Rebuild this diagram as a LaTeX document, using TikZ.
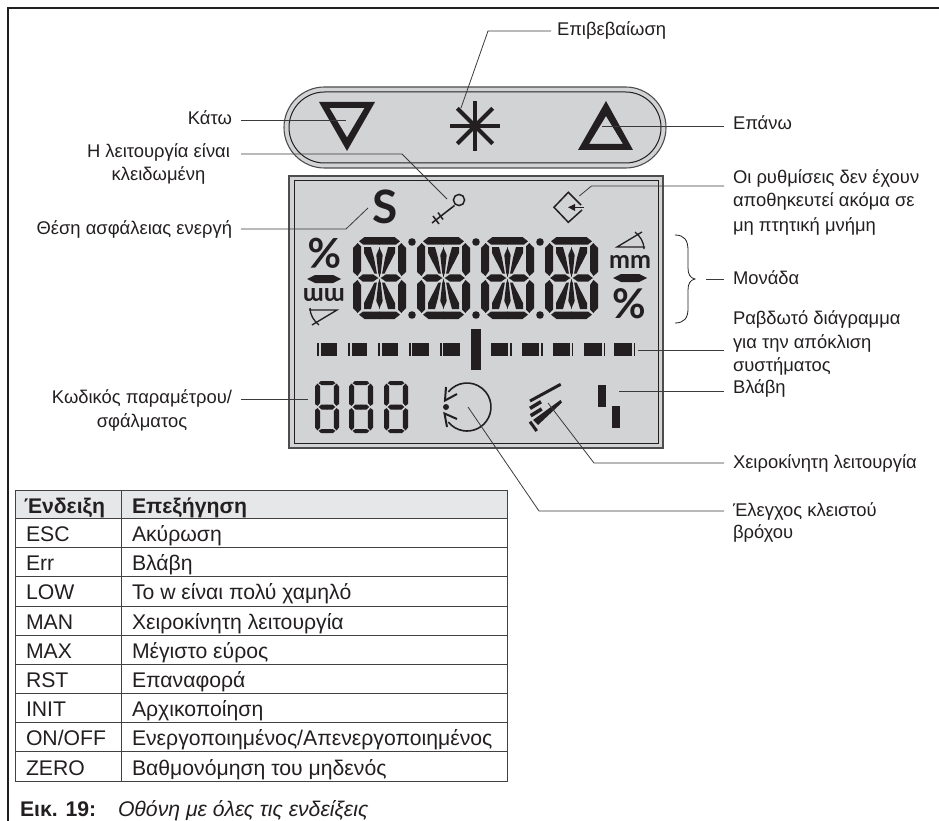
\documentclass[tikz,border=0pt]{standalone}
\usepackage{fontspec}
\setmainfont{Liberation Sans}
\newfontfamily\symfont{Lato}
\definecolor{lcdgray}{HTML}{D1D3D4}
\definecolor{ink}{HTML}{231F20}
\definecolor{headgray}{HTML}{E6E7E8}
\definecolor{leaderc}{HTML}{3A3A3A}
\tikzset{
  lbl/.style={inner sep=0pt,outer sep=0pt,text=ink,font=\fontsize{18.4}{22}\selectfont},
  cell/.style={inner sep=0pt,outer sep=0pt,text=ink,font=\fontsize{21.2}{24}\selectfont},
  cellb/.style={inner sep=0pt,outer sep=0pt,text=ink,font=\fontsize{21.2}{24}\selectfont\bfseries},
  leader/.style={draw=leaderc,line width=0.8pt},
  panel/.style={draw=ink!80,line width=1.1pt,fill=lcdgray},
  seg/.style={fill=ink},
  rule/.style={draw=ink!85,line width=0.8pt},
}
% 14-segment digit, centred at (#1,#2)
\newcommand{\alnumdigit}[2]{%
  \begin{scope}[shift={(#1,#2)}]
  \foreach \sx in {1,-1} \foreach \sy in {1,-1} {
    \begin{scope}[xscale=\sx,yscale=\sy]
      \fill[seg] (-20.5,-36.7)--(-15,-41)--(0.3,-41)--(0.3,-33.5)--(-16.5,-33.5)--cycle;
      \fill[seg] (-26.5,-30)--(-21.8,-35)--(-18.5,-31.5)--(-18.5,-7)--(-22,-2)--(-26.5,-6)--cycle;
      \fill[seg] (-21.5,0.2)--(-16.5,-3.7)--(-6.5,-3.7)--(-1,0.2)--cycle;
      \fill[seg] (0.3,-31)--(-3.2,-23)--(-1.3,-5)--(0.3,-1)--cycle;
      \fill[seg] (-15.5,-31)--(-8.5,-31)--(-5.5,-20)--(-2.6,-4.5)--(-5,-4.5)--(-15.5,-25)--cycle;
    \end{scope}
  }
  \end{scope}}
% 7-segment digit, centred at (#1,#2)
\newcommand{\sevendigit}[2]{%
  \begin{scope}[shift={(#1,#2)}]
  \foreach \sx in {1,-1} \foreach \sy in {1,-1} {
    \begin{scope}[xscale=\sx,yscale=\sy]
      \fill[seg] (-8.5,-23.8)--(-6,-26)--(0.3,-26)--(0.3,-22)--(-5.5,-22)--cycle;
      \fill[seg] (-12,-20.5)--(-9.5,-23.5)--(-6.8,-20.5)--(-6.8,-4)--(-9.5,-1.2)--(-12,-3)--cycle;
      \fill[seg] (-8.3,0.2)--(-5.5,-2.5)--(0.3,-2.5)--(0.3,0.2)--cycle;
    \end{scope}
  }
  \end{scope}}
% unit column: angle, mm, lens, %
\newcommand{\unitcol}[1]{%
  \draw[ink,line width=1.3pt] (642,232)--(617,247)--(645,247);
  \draw[ink,line width=1.3pt] (635,232) .. controls (640,236) and (644,242) .. (644,249);
  \node[inner sep=0pt,text=ink,transform shape,font=\symfont\bfseries\fontsize{25}{25}\selectfont] (#1mm) at (630,261.5) {mm};
  \fill[seg] (613,278)--(621,274)--(639,274)--(647,278)--(639,282)--(621,282)--cycle;
  \node[inner sep=0pt,text=ink,transform shape,font=\symfont\bfseries\fontsize{41}{41}\selectfont] (#1pc) at (629.5,304) {\%};
}
\begin{document}
\begin{tikzpicture}[x=1pt,y=-1pt]
\useasboundingbox (0,0) rectangle (939,821);
% page frame
\draw[ink,line width=1.4pt] (939,8)--(8,8)--(8,821);
% pill
\draw[panel,rounded corners=40.5pt] (284,87) rectangle (666,168);
\draw[draw=ink,line width=1pt,rounded corners=35.5pt] (289,92) rectangle (661,163);
% LCD
\draw[panel] (289,176) rectangle (663,448);
\draw[draw=ink,line width=1pt] (294,181) rectangle (658,443);
% keys
\fill[seg,even odd rule] (319,102)--(375,102)--(347,151)--cycle (329.5,108)--(364.5,108)--(347,137.5)--cycle;
\foreach \a in {0,45,90,135}
  \draw[ink,line width=4.2pt] (475,126)++(\a:25)--++(\a+180:50);
\fill[seg,even odd rule] (606,101)--(578,150)--(633,150)--cycle (606,116)--(589,144)--(623,144)--cycle;
% S
\node[inner sep=0pt,text=ink,font=\symfont\bfseries\fontsize{46}{46}\selectfont] (ssym) at (385,207) {S};
% key icon
\draw[ink,line width=1.5pt] (459,200) circle (5.6);
\draw[ink,line width=1.5pt] (454.5,205.5)--(432,223);
\draw[ink,line width=1.5pt] (433,216)--(439,224) (438,212.5)--(443,219.5);
% memory icon
\draw[ink,line width=1.5pt] (581,205)--(568.3,192.3)--(554,207.3)--(568.3,222.3)--(582,210);
\draw[ink,line width=1.5pt] (584,207.3)--(574,207.3);
\fill[seg] (568,207.3)--(575,204)--(575,211)--cycle;
% unit columns
\unitcol{r}
\begin{scope}[shift={(954,557)},rotate=180]
  \unitcol{l}
\end{scope}
% big digits
\foreach \x in {379.5,443.5,507.5,571.5} { \alnumdigit{\x}{278} }
\foreach \x in {412,476,540} {
  \fill[seg] (\x,242) circle (3.8);
  \fill[seg] (\x,315) circle (3.8);
}
% bar graph
\foreach \a/\b in {317.3/319,320.7/337,348.3/350,351.5/367.3,378/380,381.7/398,409/411,412.3/429,440/442,443.3/460,
                   491/508,510/512,522/539.3,541/543,553/570,572/573.3,584/602,603.5/605,614/632,633.5/635}
  \fill[seg] (\a,343) rectangle (\b,356);
\fill[seg] (471,329) rectangle (481,370);
% 888
\foreach \x in {327,361,396} { \sevendigit{\x}{407} }
% loop icon
\draw[ink,line width=1.6pt] (448.35,391.9) arc[start angle=141,end angle=-141,radius=24pt];
\fill[seg] (446,407) circle (3);
\draw[ink,line width=2pt] (446,387)--(445,400.5)--(457,394);
\draw[ink,line width=2pt] (447,427)--(444.5,413.5)--(457,419);
% hand icon
\draw[ink,line width=3pt] (530,401)--(560.7,384.3);
\draw[ink,line width=3.6pt] (530,408.3)--(541,401.7);
\draw[ink,line width=3.6pt] (530.7,415.7)--(541.7,409);
\fill[seg] (533,420)--(560.5,400)--(562,402.5)--(538,425)--cycle;
\draw[ink,line width=3pt] (530,421.7)--(536.7,431);
% fault icon
\fill[seg] (598,385) rectangle (606,407);
\fill[seg] (612,406) rectangle (620,428);
% brace
\draw[ink,line width=0.8pt] (675,235) .. controls (684,235) and (688,240) .. (688,250) -- (688,268) .. controls (688,274) and (690,278) .. (695,279)
  .. controls (690,280) and (688,284) .. (688,290) -- (688,309) .. controls (688,318) and (684,323) .. (675,323);
% labels, left
\node[lbl,anchor=base east] (kato) at (232,125) {Κάτω};
\node[lbl,anchor=base] (lock1) at (158.5,158) {Η λειτουργία είναι};
\node[lbl,anchor=base] (lock2) at (158.5,181) {κλειδωμένη};
\node[lbl,anchor=base east] (safe) at (232,234) {Θέση ασφάλειας ενεργή};
\node[lbl,anchor=base] (code1) at (142,403) {Κωδικός παραμέτρου/};
\node[lbl,anchor=base] (code2) at (142,427) {σφάλματος};
% labels, right
\node[lbl,anchor=base west] (conf) at (557,36) {Επιβεβαίωση};
\node[lbl,anchor=base west] (up) at (733,130) {Επάνω};
\node[lbl,anchor=base west] (mem1) at (733,183) {Οι ρυθμίσεις δεν έχουν};
\node[lbl,anchor=base west] (mem2) at (733,207) {αποθηκευτεί ακόμα σε};
\node[lbl,anchor=base west] (mem3) at (733,231) {μη πτητική μνήμη};
\node[lbl,anchor=base west] (unit) at (733,284) {Μονάδα};
\node[lbl,anchor=base west] (bar1) at (733,324) {Ραβδωτό διάγραμμα};
\node[lbl,anchor=base west] (bar2) at (733,348) {για την απόκλιση};
\node[lbl,anchor=base west] (bar3) at (733,371) {συστήματος};
\node[lbl,anchor=base west] (fault) at (733,393) {Βλάβη};
\node[lbl,anchor=base west] (man) at (733,468) {Χειροκίνητη λειτουργία};
\node[lbl,anchor=base west] (loop1) at (733,516) {Έλεγχος κλειστού};
\node[lbl,anchor=base west] (loop2) at (733,538) {βρόχου};
% connector ends
\coordinate (c1a) at (241,120); \coordinate (c1b) at (346,120);
\coordinate (c2a) at (241,154); \coordinate (c2b) at (402,154); \coordinate (c2c) at (447,199);
\coordinate (c3a) at (241,229); \coordinate (c3b) at (346,229); \coordinate (c3c) at (368,208);
\coordinate (c4a) at (551,31); \coordinate (c4b) at (488,31); \coordinate (c4c) at (461,108);
\coordinate (c5a) at (724,126); \coordinate (c5b) at (602,126);
\coordinate (c6a) at (724,186); \coordinate (c6b) at (591.5,186); \coordinate (c6c) at (579.3,196);
\coordinate (c7a) at (724,279); \coordinate (c7b) at (706,279);
\coordinate (c8a) at (724,350); \coordinate (c8b) at (638,350);
\coordinate (c9a) at (724,391); \coordinate (c9b) at (619,391);
\coordinate (c10a) at (724,463); \coordinate (c10b) at (594,463); \coordinate (c10c) at (548,403);
\coordinate (c11a) at (724,511); \coordinate (c11b) at (539,511); \coordinate (c11c) at (468,407);
\coordinate (c12a) at (241,399); \coordinate (c12b) at (308,399);
\draw[leader] (c1a)--(c1b);
\draw[leader] (c2a)--(c2b)--(c2c);
\draw[leader] (c3a)--(c3b)--(c3c);
\draw[leader] (c4a)--(c4b)--(c4c);
\draw[leader] (c5a)--(c5b);
\draw[leader] (c6a)--(c6b)--(c6c);
\draw[leader] (c7a)--(c7b);
\draw[leader] (c8a)--(c8b);
\draw[leader] (c9a)--(c9b);
\draw[leader] (c10a)--(c10b)--(c10c);
\draw[leader] (c11a)--(c11b)--(c11c);
\draw[leader] (c12a)--(c12b);
% table
\fill[headgray] (15,490) rectangle (507,518.3);
\draw[rule] (15,490) rectangle (507,781);
\draw[rule] (121.5,490)--(121.5,781);
\foreach \y in {518.3,547.3,576.7,606,635,664,693.3,722.3,751.7} \draw[rule] (15,\y)--(507,\y);
\node[cellb,anchor=base west] (h1) at (24,513) {Ένδειξη};
\node[cellb,anchor=base west] (h2) at (132,513) {Επεξήγηση};
\foreach \n/\y/\a/\b in {1/541/ESC/Ακύρωση,2/570/Err/Βλάβη,3/599.5/LOW/Το w είναι πολύ χαμηλό,4/629/MAN/Χειροκίνητη λειτουργία,
   5/658/MAX/Μέγιστο εύρος,6/687/RST/Επαναφορά,7/716.5/INIT/Αρχικοποίηση,8/745.5/ON\slash OFF/Ενεργοποιημένος\slash Απενεργοποιημένος,9/775/ZERO/Βαθμονόμηση του μηδενός}{
  \node[cell,anchor=base west] (ra\n) at (26,\y) {\a};
  \node[cell,anchor=base west] (rb\n) at (132,\y) {\b};
}
% caption
\node[cellb,anchor=base west] (cap1) at (20,816) {Εικ. 19:};
\node[cell,anchor=base west,font=\fontsize{21.2}{24}\selectfont\itshape] (cap2) at (118,816) {Οθόνη με όλες τις ενδείξεις};
\end{tikzpicture}
\end{document}
